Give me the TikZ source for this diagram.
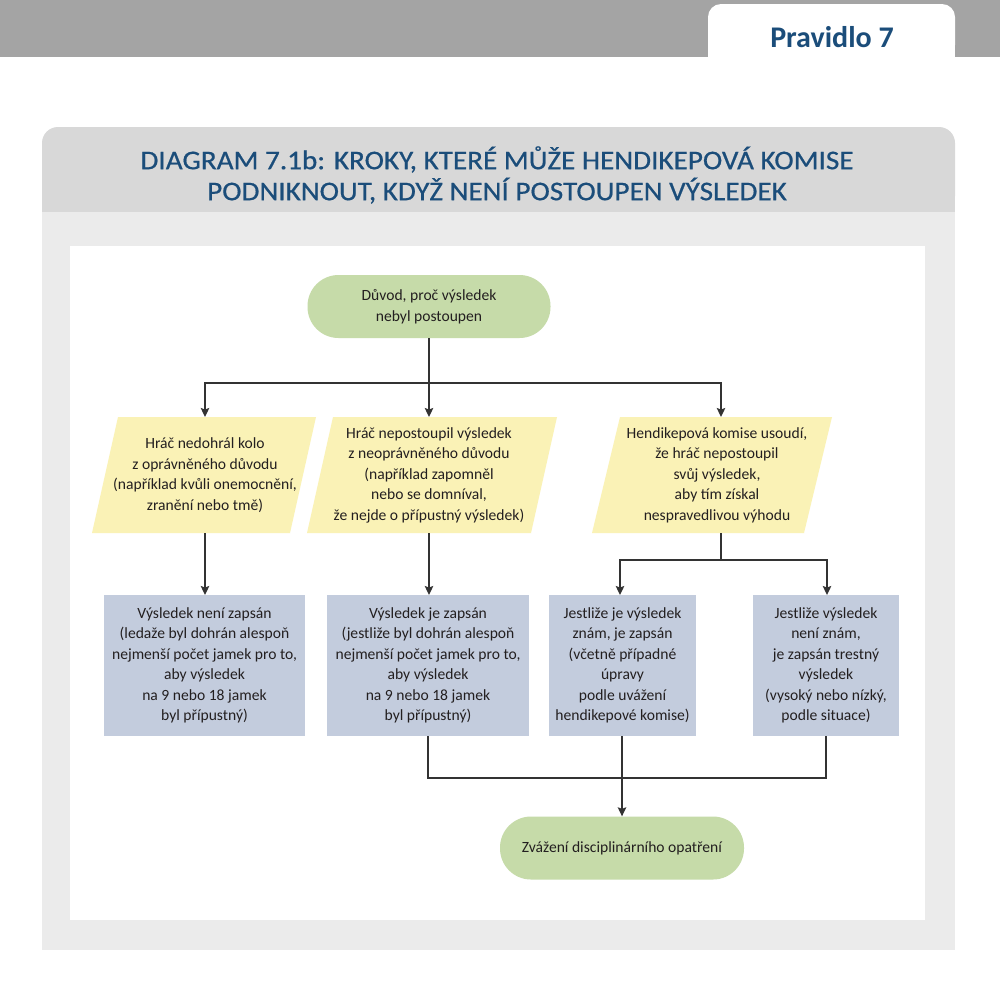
\documentclass[tikz,border=0pt]{standalone}
\usepackage{fontspec}
\setmainfont{Carlito}
\newfontfamily\titlefont{Carlito}[FakeStretch=1.08,FakeBold=0.6]
\usetikzlibrary{arrows.meta}
\definecolor{bandgray}{HTML}{A4A4A4}
\definecolor{titleband}{HTML}{D8D8D8}
\definecolor{panelgray}{HTML}{EBEBEB}
\definecolor{titleblue}{HTML}{1B4D7A}
\definecolor{pillgreen}{HTML}{C6DBA9}
\definecolor{parayellow}{HTML}{FAF2B6}
\definecolor{boxblue}{HTML}{C3CCDD}
\definecolor{inkc}{HTML}{231F20}
\definecolor{linec}{HTML}{333333}
\tikzset{
  x=1pt,y=-1pt,
  every node/.style={font=\fontsize{15.6}{20.5}\selectfont, text=inkc, align=center, inner sep=0pt},
  pill/.style={fill=pillgreen, rounded corners=31pt, minimum height=63pt},
  paranode/.style={minimum height=116pt},
  resbox/.style={fill=boxblue, minimum height=141pt},
  conn/.style={draw=linec, line width=1.3pt},
  arr/.style={conn, -{Stealth[length=9pt,width=8.5pt,inset=1.5pt]}},
}
\newcommand{\parashape}[4]{% cx, cy, w, s
  \fill[parayellow] ({#1-#3/2+#4},{#2-58}) -- ({#1+#3/2+#4},{#2-58}) -- ({#1+#3/2-#4},{#2+58}) -- ({#1-#3/2-#4},{#2+58}) -- cycle;}
\begin{document}
\begin{tikzpicture}
\useasboundingbox (0,0) rectangle (1000,989);
\fill[white] (0,0) rectangle (1000,989);
% top band and tab
\fill[bandgray] (0,0) rectangle (1000,57);
\fill[white, rounded corners=13pt] (708,58) -- (708,4) -- (955,4) -- (955,58) [sharp corners] -- cycle;
\fill[white] (708,40) rectangle (955,58);
\node[font=\fontsize{30}{34}\selectfont\bfseries, text=titleblue] (tab) at (832,37) {Pravidlo 7};
% panel
\fill[titleband, rounded corners=16pt] (42,212) -- (42,127) -- (955,127) -- (955,212) [sharp corners] -- cycle;
\fill[titleband] (42,190) rectangle (955,213);
\fill[panelgray] (42,212) rectangle (955,950);
\fill[white] (70,246) rectangle (925,920);
\node[font=\titlefont\fontsize{27}{31}\selectfont, text=titleblue] (title) at (497,175)
  {DIAGRAM 7.1b: KROKY, KTERÉ MŮŽE HENDIKEPOVÁ KOMISE\\PODNIKNOUT, KDYŽ NENÍ POSTOUPEN VÝSLEDEK};
% parallelograms
\parashape{204}{475}{198}{13}
\parashape{432}{475}{224}{13}
\parashape{712}{475}{212}{14}
% nodes
\node[pill, minimum width=243pt] (start) at (429,306.5) {Důvod, proč výsledek\\nebyl postoupen};
\node[paranode, minimum width=190pt] (p1) at (205,475) {Hráč nedohrál kolo\\z oprávněného důvodu\\(například kvůli onemocnění,\\zranění nebo tmě)};
\node[paranode, minimum width=200pt] (p2) at (429,475) {Hráč nepostoupil výsledek\\z neoprávněného důvodu\\(například zapomněl\\nebo se domníval,\\že nejde o přípustný výsledek)};
\node[paranode, minimum width=190pt] (p3) at (717,475) {Hendikepová komise usoudí,\\že hráč nepostoupil\\svůj výsledek,\\aby tím získal\\nespravedlivou výhodu};
\node[resbox, minimum width=201pt] (b1) at (204.5,665.5) {Výsledek není zapsán\\(ledaže byl dohrán alespoň\\nejmenší počet jamek pro to,\\aby výsledek\\na 9 nebo 18 jamek\\byl přípustný)};
\node[resbox, minimum width=202pt] (b2) at (428,665.5) {Výsledek je zapsán\\(jestliže byl dohrán alespoň\\nejmenší počet jamek pro to,\\aby výsledek\\na 9 nebo 18 jamek\\byl přípustný)};
\node[resbox, minimum width=147pt] (b3) at (622.5,665.5) {Jestliže je výsledek\\znám, je zapsán\\(včetně případné\\úpravy\\podle uvážení\\hendikepové komise)};
\node[resbox, minimum width=146pt] (b4) at (826,665.5) {Jestliže výsledek\\není znám,\\je zapsán trestný\\výsledek\\(vysoký nebo nízký,\\podle situace)};
\node[pill, minimum width=244pt] (end) at (622,848) {Zvážení disciplinárního opatření};
% connectors
\coordinate (j1) at (429,383);
\draw[conn] (start.south) -- (j1);
\draw[arr] (j1) -| (205,417);
\draw[arr] (j1) -- (429,417);
\draw[arr] (j1) -| (721,417);
\draw[arr] (205,533) -- (205,595);
\draw[arr] (429,533) -- (429,595);
\coordinate (j2) at (721,560);
\draw[conn] (721,533) -- (j2);
\draw[arr] (j2) -| (620,595);
\draw[arr] (j2) -| (827,595);
\coordinate (j3) at (622,778);
\draw[conn] (b2.south) |- (j3);
\draw[conn] (b4.south) |- (j3);
\draw[arr] (622,736) -- (end.north);
\end{tikzpicture}
\end{document}
